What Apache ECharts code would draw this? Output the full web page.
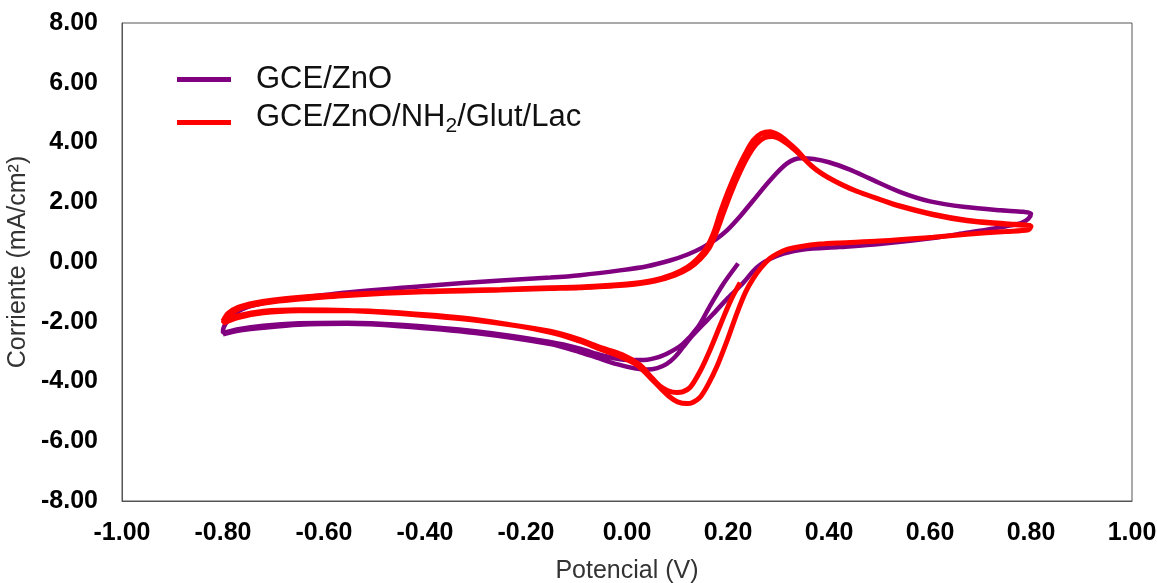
<!DOCTYPE html>
<html>
<head>
<meta charset="utf-8">
<script src="https://cdn.jsdelivr.net/npm/echarts@6/dist/echarts.min.js"></script>
<style>
html,body{margin:0;padding:0;background:#fff;}
#chart{width:1157px;height:583px;}
</style>
</head>
<body>
<div id="chart"></div>
<script>
// Axis ticks
const xTicks = [-1.0, -0.8, -0.6, -0.4, -0.2, 0.0, 0.2, 0.4, 0.6, 0.8, 1.0];
const yTicks = [-8, -6, -4, -2, 0, 2, 4, 6, 8];

// GCE/ZnO (purple) branches: [potential V, current mA/cm2]
const purpleCathodic1 = [[0.22,-0.05],[0.19,-0.75],[0.165,-1.45],[0.14,-2.19],[0.11,-2.75],[0.079,-3.07],[0.055,-3.22],[0.04,-3.27],[0.0,-3.28],[-0.05,-3.12],[-0.093,-2.9],[-0.152,-2.68],[-0.3,-2.32],[-0.45,-2.1],[-0.554,-2.03],[-0.65,-2.05],[-0.72,-2.13],[-0.77,-2.25],[-0.8,-2.38]];
const purpleAnodic = [[-0.8,-2.3],[-0.79,-1.95],[-0.77,-1.65],[-0.74,-1.45],[-0.7,-1.32],[-0.647,-1.2],[-0.554,-1.02],[-0.4,-0.8],[-0.25,-0.62],[-0.152,-0.52],[-0.093,-0.44],[-0.014,-0.28],[0.04,-0.14],[0.085,0.05],[0.12,0.25],[0.15,0.49],[0.175,0.75],[0.198,1.06],[0.225,1.55],[0.25,2.06],[0.283,2.73],[0.317,3.3],[0.345,3.47],[0.37,3.45],[0.4,3.34],[0.44,3.1],[0.48,2.8],[0.54,2.35],[0.6,2.03],[0.67,1.84],[0.74,1.73],[0.785,1.68],[0.8,1.62]];
const purpleReverse = [[0.8,1.62],[0.795,1.45],[0.78,1.3],[0.739,1.16],[0.673,0.98],[0.606,0.8],[0.5,0.6],[0.42,0.5],[0.349,0.42],[0.31,0.28],[0.283,0.1],[0.265,-0.08],[0.25,-0.3],[0.23,-0.7],[0.2,-1.2],[0.17,-1.75],[0.15,-2.1],[0.125,-2.55],[0.111,-2.85],[0.095,-3.18],[0.078,-3.42],[0.06,-3.55],[0.04,-3.6],[0.015,-3.56],[-0.02,-3.42],[-0.06,-3.2],[-0.093,-3.02],[-0.152,-2.75],[-0.3,-2.38],[-0.45,-2.15],[-0.554,-2.07],[-0.65,-2.1],[-0.72,-2.2],[-0.77,-2.3],[-0.8,-2.42]];

// GCE/ZnO/NH2/Glut/Lac (red) branches
const redCathodic1 = [[0.224,-0.69],[0.205,-1.3],[0.185,-2.1],[0.164,-2.96],[0.145,-3.65],[0.125,-4.2],[0.11,-4.35],[0.099,-4.37],[0.08,-4.3],[0.065,-4.15],[0.045,-3.8],[0.026,-3.45],[-0.01,-3.1],[-0.053,-2.86],[-0.093,-2.6],[-0.152,-2.32],[-0.3,-1.95],[-0.45,-1.72],[-0.554,-1.62],[-0.65,-1.6],[-0.72,-1.65],[-0.77,-1.8],[-0.8,-1.98]];
const redAnodic1 = [[-0.8,-1.98],[-0.79,-1.72],[-0.77,-1.52],[-0.74,-1.38],[-0.7,-1.27],[-0.647,-1.18],[-0.554,-1.08],[-0.4,-0.98],[-0.25,-0.92],[-0.152,-0.86],[-0.093,-0.84],[0.0,-0.74],[0.051,-0.62],[0.09,-0.42],[0.119,-0.18],[0.14,0.12],[0.158,0.49],[0.172,1.0],[0.184,1.62],[0.2,2.35],[0.218,3.07],[0.235,3.65],[0.25,4.07],[0.266,4.3],[0.283,4.36],[0.3,4.25],[0.318,4.02],[0.337,3.73],[0.36,3.3],[0.382,3.0],[0.41,2.72],[0.45,2.4],[0.5,2.1],[0.541,1.88],[0.606,1.6],[0.673,1.4],[0.75,1.28],[0.8,1.2]];
const redReverse = [[0.8,1.2],[0.795,1.08],[0.75,1.02],[0.673,0.93],[0.606,0.83],[0.5,0.7],[0.42,0.64],[0.382,0.6],[0.345,0.52],[0.317,0.42],[0.298,0.28],[0.283,0.12],[0.265,-0.2],[0.25,-0.55],[0.235,-1.0],[0.218,-1.7],[0.2,-2.55],[0.178,-3.5],[0.16,-4.12],[0.145,-4.52],[0.13,-4.7],[0.119,-4.74],[0.1,-4.68],[0.085,-4.52],[0.065,-4.2],[0.046,-3.87],[0.02,-3.45],[-0.02,-3.12],[-0.053,-2.92],[-0.093,-2.65],[-0.152,-2.35],[-0.3,-1.92],[-0.45,-1.7],[-0.554,-1.62],[-0.65,-1.63],[-0.72,-1.7],[-0.77,-1.86],[-0.8,-2.05]];
const redAnodic2 = [[-0.8,-2.05],[-0.79,-1.8],[-0.77,-1.58],[-0.74,-1.44],[-0.7,-1.33],[-0.647,-1.24],[-0.554,-1.12],[-0.4,-1.0],[-0.25,-0.94],[-0.152,-0.89],[-0.093,-0.86],[0.0,-0.77],[0.055,-0.64],[0.095,-0.44],[0.124,-0.2],[0.145,0.1],[0.163,0.48],[0.177,1.0],[0.19,1.6],[0.206,2.32],[0.224,3.02],[0.241,3.58],[0.256,3.95],[0.272,4.16],[0.288,4.2],[0.305,4.1],[0.323,3.88],[0.342,3.6],[0.365,3.22],[0.387,2.94],[0.415,2.68],[0.455,2.37],[0.5,2.1],[0.541,1.86],[0.606,1.58],[0.673,1.38],[0.75,1.26],[0.8,1.22]];

const purpleData = [].concat(purpleCathodic1, purpleAnodic, purpleReverse);
const redData = [].concat(redCathodic1, redAnodic1, redReverse, redAnodic2);

const fmt = v => (Math.abs(v) < 1e-9 ? 0 : v).toFixed(2);
const FONT = '"Liberation Sans", Arial, sans-serif';

const chart = echarts.init(document.getElementById('chart'), null, {renderer: 'canvas'});
chart.setOption({
  animation: false,
  backgroundColor: '#ffffff',
  grid: {left: 122, right: 25, top: 23, bottom: 82, show: true, borderColor: '#555555', borderWidth: 1,
         containLabel: false, outerBoundsMode: 'none'},
  legend: [
    {data: ['GCE/ZnO'], left: 177, top: 64, padding: 0, icon: 'rect', itemWidth: 54, itemHeight: 5,
     textStyle: {fontFamily: FONT, fontSize: 31, color: '#111', padding: [0,0,26,20]}},
    {data: ['GCE/ZnO/NH2/Glut/Lac'], left: 177, top: 102, padding: 0, icon: 'rect', itemWidth: 54, itemHeight: 5,
     formatter: () => '{a|GCE/ZnO/NH}{s|2}{a|/Glut/Lac}',
     textStyle: {fontFamily: FONT, fontSize: 31, color: '#111', padding: [0,0,10,20],
       rich: {a: {fontFamily: FONT, fontSize: 31, color: '#111'},
              s: {fontFamily: FONT, fontSize: 21, color: '#111', padding: [18,0,0,0]}}}}
  ],
  xAxis: {
    type: 'value', min: xTicks[0], max: xTicks[xTicks.length-1], interval: 0.2,
    name: 'Potencial (V)', nameLocation: 'middle', nameGap: 58,
    nameTextStyle: {fontFamily: FONT, fontSize: 25, color: '#333'},
    axisLine: {show: true, onZero: false, lineStyle: {color: '#555555', width: 1}},
    axisTick: {show: false}, splitLine: {show: false},
    axisLabel: {formatter: fmt, fontFamily: FONT, fontSize: 25, fontWeight: 'bold', color: '#000', margin: 20}
  },
  yAxis: {
    type: 'value', min: yTicks[0], max: yTicks[yTicks.length-1], interval: 2,
    name: 'Corriente (mA/cm²)', nameLocation: 'middle', nameGap: 88, nameRotate: 90,
    nameTextStyle: {fontFamily: FONT, fontSize: 25, color: '#333'},
    axisLine: {show: true, onZero: false, lineStyle: {color: '#555555', width: 1}},
    axisTick: {show: false}, splitLine: {show: false},
    axisLabel: {formatter: fmt, fontFamily: FONT, fontSize: 25, fontWeight: 'bold', color: '#000', margin: 24}
  },
  series: [
    {name: 'GCE/ZnO', type: 'line', data: purpleData, showSymbol: false, symbol: 'none', smooth: 0.3,
     color: '#800080', lineStyle: {color: '#800080', width: 4.5}},
    {name: 'GCE/ZnO/NH2/Glut/Lac', type: 'line', data: redData, showSymbol: false, symbol: 'none', smooth: 0.3,
     color: '#ff0000', lineStyle: {color: '#ff0000', width: 5}}
  ]
});
</script>
</body>
</html>
